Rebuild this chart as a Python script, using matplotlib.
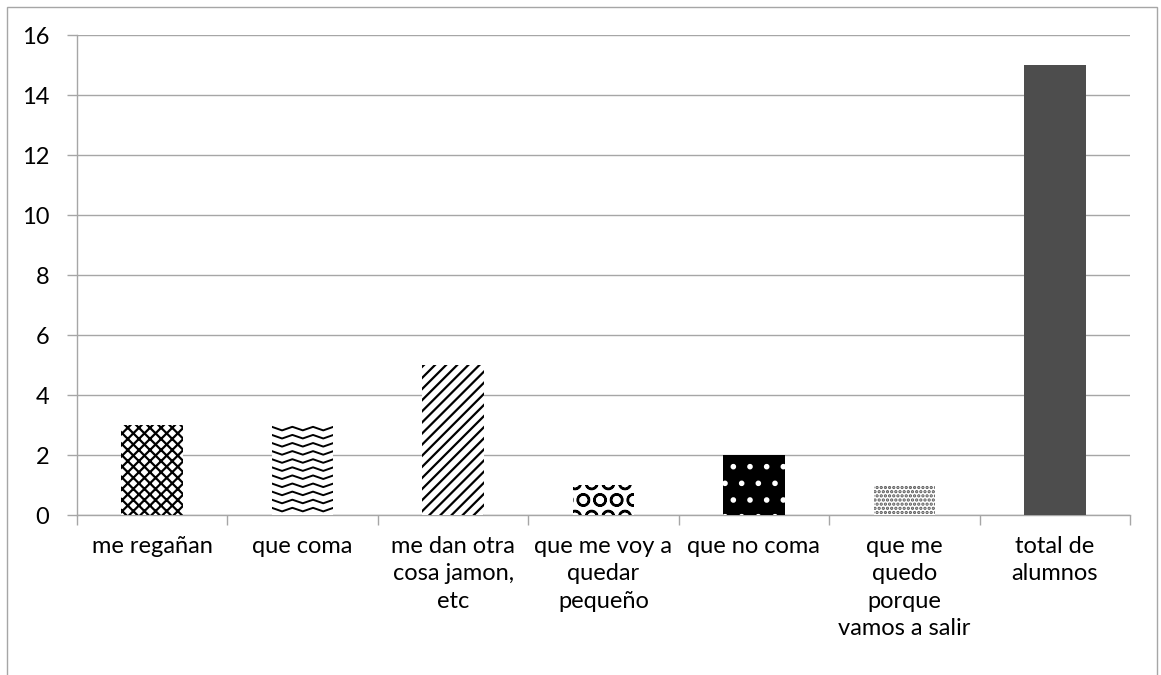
import matplotlib
matplotlib.use("Agg")
import matplotlib.pyplot as plt
import numpy as np
from matplotlib.patches import Rectangle

plt.rcParams['font.family'] = ['Lato', 'DejaVu Sans']
plt.rcParams['hatch.linewidth'] = 1.6

categories = ["me regañan", "que coma", "me dan otra\ncosa jamon,\netc",
              "que me voy a\nquedar\npequeño", "que no coma",
              "que me\nquedo\nporque\nvamos a salir", "total de\nalumnos"]
values = [3, 3, 5, 1, 2, 1, 15]
yticks = [0, 2, 4, 6, 8, 10, 12, 14, 16]

W, H = 1161, 675
fig = plt.figure(figsize=(W / 100, H / 100), dpi=100)
# outer chart border
fig.patches.append(Rectangle((7 / W, -0.01), (1157 - 7) / W, (H - 7) / H + 0.01,
                             transform=fig.transFigure, fill=False,
                             edgecolor='#a6a6a6', linewidth=1.0))

ax = fig.add_axes([77 / W, 1 - 515 / H, (1130 - 77) / W, (515 - 35) / H])
x = np.arange(len(categories))
styles = [
    dict(facecolor='white', hatch='xxx', edgecolor='black'),
    dict(facecolor='white', hatch=None, edgecolor='white'),
    dict(facecolor='white', hatch='///', edgecolor='black'),
    dict(facecolor='white', hatch='O', edgecolor='black'),
    dict(facecolor='black', hatch='.', edgecolor='white'),
    dict(facecolor='white', hatch='....', edgecolor='#555555'),
    dict(facecolor='#4d4d4d', hatch=None, edgecolor='#4d4d4d'),
]
bars = ax.bar(x, values, width=0.41, zorder=3, linewidth=0)
for b, st in zip(bars, styles):
    b.set_facecolor(st['facecolor'])
    b.set_edgecolor(st['edgecolor'])
    if st['hatch']:
        b.set_hatch(st['hatch'])

# wave texture for the second bar, clipped to it
b2 = bars[1]
bx0, bw, bh = b2.get_x(), b2.get_width(), b2.get_height()
period = bw / 3
for yy in np.arange(0.12, bh + 0.3, 0.27):
    xs = np.linspace(bx0, bx0 + bw, 200)
    ys = yy + 0.12 * np.abs(((xs - bx0) / period) % 1 - 0.5) * 2
    ln, = ax.plot(xs, ys, color='black', lw=1.4, zorder=4)
    ln.set_clip_path(b2)

ax.set_xlim(-0.5, len(categories) - 0.5)
ax.set_ylim(0, 16)
ax.set_yticks(yticks)
ax.set_yticklabels([str(v) for v in yticks], fontsize=17)
ax.yaxis.grid(True, color='#a6a6a6', linewidth=1.0, zorder=0)
ax.set_xticks(np.arange(-0.5, len(categories), 1.0), minor=False)
ax.set_xticklabels([])
ax.set_xticks(x, minor=True)
ax.set_xticklabels(categories, minor=True, fontsize=17, linespacing=1.38, va='top')
ax.tick_params(axis='x', which='minor', length=0, pad=15)
ax.tick_params(axis='x', which='major', length=7, color='#a6a6a6', width=1.0)
ax.tick_params(axis='y', length=7, color='#a6a6a6', width=1.0, pad=13)
for s in ['top', 'right']:
    ax.spines[s].set_visible(False)
for s in ['left', 'bottom']:
    ax.spines[s].set_color('#a6a6a6')
    ax.spines[s].set_linewidth(1.0)

fig.savefig("out.png", dpi=100)
